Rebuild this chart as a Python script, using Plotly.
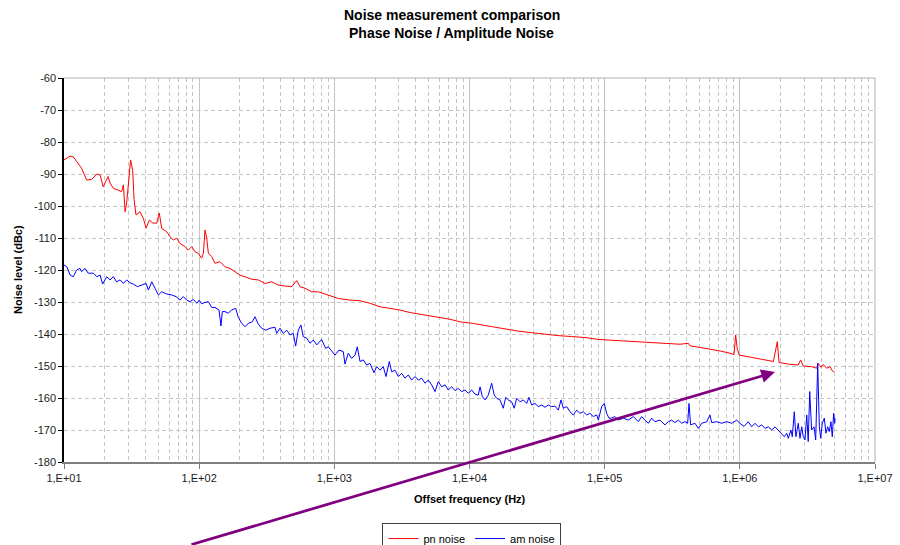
import plotly.graph_objects as go

# Phase noise trace: offset frequency (Hz) and level (dBc)
pn_freq = [10, 11.1, 11.7, 12.4, 13.5, 14.7, 16.0, 17.5, 18.5, 19.5, 21.2, 21.9, 23.2, 25.1,
           26.7, 27.5, 28.3, 29.1, 29.9, 31.1, 32.2, 33.0, 34.1, 36.5, 38.6, 40.5, 42.8, 45.3,
           48.5, 50.7, 52.8, 57.5, 60.8, 64.4, 68.2, 72.1, 78.6, 83.1, 88.1, 93.1, 98.6, 104.4,
           107.4, 110.4, 113.7, 116.9, 123.8, 130.9, 142.6, 155.3, 169.1, 184.1, 200.4, 218.3,
           244.6, 273.7, 306.9, 344.1, 384.9, 431.5, 483.8, 527, 557, 607, 680, 761, 853, 957,
           1070, 1306, 1549, 1837, 2178, 2583, 3063, 3632, 4306, 5106, 6055, 7180, 8513, 10670,
           14590, 18320, 22970, 28840, 36210, 45390, 57020, 71450, 89740, 109400, 129700,
           182400, 256400, 360600, 415900, 427600, 507000, 601200, 712900, 845300, 905700,
           931100, 957000, 990000, 1092000, 1155000, 1452000, 1770000, 1841000, 1893000,
           1950000, 2282000, 2706000, 2818000, 2946000, 3398000, 3700000, 3802000, 3981000,
           4140000, 4393000, 4645000, 4831000, 5000000]
pn_level = [-85.6, -84.4, -84.6, -86.2, -88.2, -91.9, -91.7, -90.0, -90.3, -94.0, -90.8, -92.8,
            -94.5, -95.0, -95.5, -93.4, -101.8, -99.0, -94.0, -85.6, -88.8, -98.0, -102.8,
            -101.8, -103.8, -106.9, -104.4, -105.3, -105.4, -102.2, -107.0, -108.0, -109.6,
            -110.6, -110.1, -111.7, -112.7, -113.8, -112.7, -114.3, -114.8, -116.3, -114.8,
            -107.5, -110.0, -114.7, -115.8, -117.9, -117.4, -119.0, -119.5, -120.5, -121.6,
            -122.1, -122.9, -123.1, -124.2, -123.7, -124.7, -125.0, -125.2, -123.3, -125.2,
            -125.7, -126.8, -126.8, -127.5, -128.1, -128.9, -129.4, -129.6, -130.4, -131.5,
            -132.0, -132.5, -133.3, -133.8, -134.3, -134.8, -135.4, -136.2, -136.7, -137.7,
            -138.5, -139.1, -139.6, -140.1, -140.5, -140.8, -141.1, -141.7, -141.9, -142.1,
            -142.4, -142.9, -143.2, -142.9, -143.7, -144.2, -144.7, -145.3, -146.0, -146.4,
            -140.3, -144.6, -146.6, -146.8, -147.1, -147.9, -148.6, -145.0, -142.4, -148.9,
            -149.4, -149.7, -148.1, -150.0, -150.2, -150.7, -149.2, -150.4, -149.5, -150.7,
            -150.2, -151.5, -151.8]

# Amplitude noise trace: offset frequency (Hz) and level (dBc)
am_freq = [10, 10.5, 11.1, 11.7, 12.4, 13.1, 13.5, 14.3, 15.1, 16.5, 17.5, 18.5, 19.3, 20.7,
           21.9, 23.2, 24.5, 26.0, 27.5, 29.1, 30.8, 32.6, 34.9, 37.6, 40.5, 42.1, 44.6, 47.1,
           49.9, 52.8, 57.5, 62.6, 67.4, 72.1, 76.3, 80.9, 85.5, 90.6, 95.9, 100.2, 104.4, 108.6,
           116.9, 123.8, 130.9, 140.2, 145.0, 148.3, 155.3, 164.3, 174.1, 186.4, 194.8, 206.4,
           218.3, 230.8, 247.1, 258.8, 273.7, 290.4, 310.5, 334.2, 364.0, 374.7, 396.3, 419.1,
           444.6, 469.9, 496.6, 517.6, 540.8, 566.2, 588.8, 624.9, 660.7, 698.2, 741.3, 805.4,
           862.6, 901.6, 957, 1011, 1083, 1164, 1199, 1268, 1343, 1422, 1479, 1549, 1638, 1735,
           1837, 1965, 2056, 2178, 2302, 2411, 2551, 2656, 2811, 2974, 3148, 3334, 3526, 3733,
           3951, 4178, 4426, 4686, 4955, 5248, 5559, 5875, 6223, 6592, 6966, 7379, 7816, 8260,
           8750, 9268, 9795, 10380, 10990, 11610, 11970, 12450, 13030, 13770, 14590, 15240,
           15890, 16830, 17780, 18530, 19360, 20510, 21430, 22340, 23660, 25000, 26490, 27540,
           28840, 30550, 32280, 34200, 36210, 38280, 40550, 42850, 45390, 47530, 49430, 52360,
           55340, 58610, 62090, 65610, 69500, 73620, 77800, 82410, 87300, 89740, 95060, 99310,
           103500, 107600, 112700, 119100, 126200, 137400, 149600, 162900, 177400, 187900,
           198600, 210400, 222800, 235500, 256400, 279300, 295800, 313300, 331100, 350800,
           371500, 392600, 411100, 420700, 432500, 465600, 493200, 522400, 568900, 601200,
           619400, 674500, 734500, 799800, 871000, 948400, 1002000, 1074000, 1155000, 1225000,
           1294000, 1371000, 1452000, 1535000, 1626000, 1722000, 1820000, 1923000, 2042000,
           2133000, 2223000, 2282000, 2388000, 2443000, 2529000, 2600000, 2706000, 2786000,
           2871000, 2946000, 3034000, 3126000, 3206000, 3289000, 3398000, 3540000, 3641000,
           3767000, 3873000, 3963000, 4074000, 4217000, 4335000, 4467000, 4592000, 4721000,
           4831000, 4943000, 5035000, 5060000]
am_level = [-118.4, -119.0, -121.6, -122.1, -120.0, -119.5, -120.5, -119.5, -121.0, -121.0,
            -122.1, -121.6, -124.4, -122.1, -123.1, -122.1, -123.7, -123.1, -124.2, -123.1,
            -124.0, -124.4, -125.2, -124.7, -124.2, -126.3, -123.7, -125.7, -127.8, -126.8,
            -127.5, -127.8, -128.3, -129.4, -128.3, -129.4, -129.9, -129.2, -130.4, -129.4,
            -130.6, -130.2, -129.9, -131.7, -131.7, -132.5, -137.5, -133.0, -133.0, -133.5,
            -132.5, -132.0, -134.8, -136.7, -137.7, -136.7, -136.2, -134.6, -136.9, -138.2,
            -138.8, -138.2, -137.9, -139.8, -138.2, -139.8, -138.8, -140.3, -139.8, -143.8,
            -138.8, -137.2, -140.8, -141.3, -142.9, -141.9, -143.4, -141.7, -144.5, -144.0,
            -145.5, -146.6, -145.0, -145.5, -149.4, -146.0, -147.6, -146.6, -144.0, -148.6,
            -148.1, -149.7, -149.2, -152.1, -150.2, -151.3, -150.2, -153.3, -148.6, -151.8,
            -151.3, -153.3, -152.3, -153.8, -152.8, -154.4, -153.3, -154.4, -153.8, -155.4,
            -154.4, -155.9, -158.0, -154.9, -156.5, -155.9, -157.5, -156.5, -157.7, -157.0,
            -158.0, -157.5, -158.5, -157.5, -158.8, -159.1, -156.5, -159.6, -160.6, -159.1,
            -155.4, -159.1, -160.1, -160.6, -163.2, -159.8, -160.6, -161.2, -163.2, -160.1,
            -161.2, -160.6, -161.7, -159.8, -162.2, -161.7, -162.7, -162.2, -162.9, -162.2,
            -162.7, -162.5, -163.8, -160.6, -163.2, -162.7, -164.3, -165.3, -163.8, -164.8,
            -164.3, -165.3, -164.8, -165.8, -165.3, -166.9, -162.7, -161.7, -164.8, -166.3,
            -166.3, -165.8, -166.9, -166.3, -166.9, -165.8, -167.4, -165.8, -166.9, -167.9,
            -166.3, -167.4, -166.9, -168.4, -167.4, -166.9, -167.7, -166.9, -167.9, -167.4,
            -167.9, -161.7, -168.4, -167.9, -169.5, -167.9, -167.4, -165.3, -167.7, -167.4,
            -167.9, -167.4, -167.9, -166.9, -167.9, -168.9, -167.4, -169.0, -167.9, -169.0,
            -168.4, -169.5, -169.0, -170.0, -169.0, -170.0, -171.0, -172.1, -171.0, -172.6,
            -170.0, -172.1, -164.3, -172.1, -167.9, -172.6, -169.0, -172.1, -173.1, -165.3,
            -173.6, -158.0, -170.0, -169.0, -173.1, -149.2, -169.0, -172.6, -167.9, -166.3,
            -171.0, -169.0, -170.5, -167.4, -172.1, -164.8, -167.9, -166.3]

# Axis ticks
x_tick_vals = [1e1, 1e2, 1e3, 1e4, 1e5, 1e6, 1e7]
x_tick_text = ["1,E+01", "1,E+02", "1,E+03", "1,E+04", "1,E+05", "1,E+06", "1,E+07"]
y_tick_vals = [-60, -70, -80, -90, -100, -110, -120, -130, -140, -150, -160, -170, -180]
y_tick_text = ["-60", "-70", "-80", "-90", "-100", "-110", "-120", "-130", "-140", "-150",
               "-160", "-170", "-180"]
# Minor log grid: 2..9 within each decade
x_minor_vals = [m * d for d in x_tick_vals[:-1] for m in range(2, 10)]

FONT = "Liberation Sans, Arial, sans-serif"
GRID = "#c4c4c4"

fig = go.Figure()
fig.add_trace(go.Scatter(x=pn_freq, y=pn_level, mode="lines", name="pn noise",
                         line=dict(color="#ff0000", width=1)))
fig.add_trace(go.Scatter(x=am_freq, y=am_level, mode="lines", name="am noise",
                         line=dict(color="#0000ff", width=1)))

fig.update_xaxes(
    type="log", range=[1, 7], tickvals=x_tick_vals, ticktext=x_tick_text,
    showgrid=True, gridcolor=GRID, gridwidth=1,
    minor=dict(tickmode="array", tickvals=x_minor_vals, showgrid=True, gridcolor=GRID,
               griddash="4px,3px", ticks=""),
    showline=True, linecolor="#808080", linewidth=2,
    ticks="outside", ticklen=5, tickcolor="#808080", tickwidth=1,
    tickfont=dict(family=FONT, size=11, color="#1a1a1a"), zeroline=False,
)
fig.update_yaxes(
    range=[-180, -60], tickvals=y_tick_vals, ticktext=y_tick_text,
    showgrid=True, gridcolor=GRID, griddash="4px,3px", gridwidth=1,
    showline=True, linecolor="#000000", linewidth=1.5,
    ticks="outside", ticklen=4, tickcolor="#000000", tickwidth=1,
    tickfont=dict(family=FONT, size=11, color="#1a1a1a"), zeroline=False,
)

# Plot-area frame on the top and right edges
fig.add_shape(type="line", xref="paper", yref="paper", x0=0, x1=1, y0=1, y1=1,
              line=dict(color="#b0b0b0", width=1))
fig.add_shape(type="line", xref="paper", yref="paper", x0=1, x1=1, y0=0, y1=1,
              line=dict(color="#b0b0b0", width=1))

annotations = [
    dict(text="<b>Noise measurement comparison</b>", x=0.4784, y=1.1641),
    dict(text="<b>Phase Noise / Amplitude Noise</b>", x=0.4784, y=1.1172),
]
for a in annotations:
    fig.add_annotation(xref="paper", yref="paper", showarrow=False, xanchor="center",
                       yanchor="middle", font=dict(family=FONT, size=14, color="#000"), **a)

fig.add_annotation(text="<b>Offset frequency (Hz)</b>", xref="paper", yref="paper",
                   x=0.5, y=-0.0964, showarrow=False, xanchor="center", yanchor="middle",
                   font=dict(family=FONT, size=11, color="#000"))
fig.add_annotation(text="<b>Noise level (dBc)</b>", xref="paper", yref="paper",
                   x=-0.0567, y=0.5, showarrow=False, textangle=-90, xanchor="center",
                   yanchor="middle", font=dict(family=FONT, size=11, color="#000"))

# Purple pointer arrow toward the high-offset end of the pn noise trace
fig.add_annotation(x=6.26, y=-151.9, xref="x", yref="y", text="", showarrow=True,
                   ax=-585, ay=175, arrowhead=2, arrowsize=1, arrowwidth=2.75,
                   arrowcolor="#800080", standoff=0)

fig.update_layout(
    width=900, height=545,
    margin=dict(l=64, r=25, t=78, b=83, autoexpand=False),
    paper_bgcolor="#ffffff", plot_bgcolor="#ffffff",
    font=dict(family=FONT, size=11, color="#000"),
    showlegend=True,
    legend=dict(orientation="h", x=0.503, xanchor="center", y=-0.159, yanchor="top",
                bordercolor="#404040", borderwidth=1, bgcolor="#ffffff",
                font=dict(family=FONT, size=11, color="#000"), tracegroupgap=0,
                itemwidth=30),
)

fig.write_html("out.html")
